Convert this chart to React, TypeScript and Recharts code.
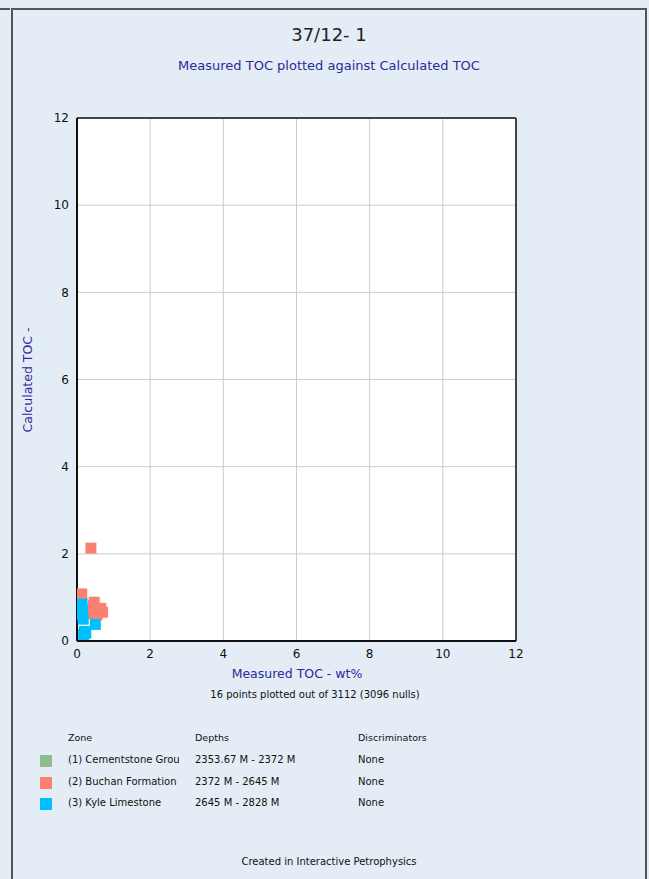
import React from "react";
import {
  ScatterChart,
  Scatter,
  XAxis,
  YAxis,
  CartesianGrid,
  ReferenceLine,
} from "recharts";

const TITLE = "37/12- 1";
const SUBTITLE = "Measured TOC plotted against Calculated TOC";
const X_LABEL = "Measured TOC - wt%";
const Y_LABEL = "Calculated TOC -";
const NOTE = "16 points plotted out of 3112 (3096 nulls)";
const FOOTER = "Created in Interactive Petrophysics";

const axisTicks = [0, 2, 4, 6, 8, 10, 12];

const zoneNames = ["(1)  Cementstone Grou", "(2) Buchan Formation", "(3) Kyle Limestone"];
const zoneDepths = ["2353.67 M - 2372 M", "2372 M - 2645 M", "2645 M - 2828 M"];
const zoneDiscriminators = ["None", "None", "None"];
const zoneColors = ["#8fbc8f", "#fa8072", "#00bfff"];

const cementstoneX: number[] = [];
const cementstoneY: number[] = [];
const buchanX = [0.38, 0.13, 0.47, 0.45, 0.65, 0.7, 0.36, 0.55];
const buchanY = [2.13, 1.08, 0.89, 0.82, 0.75, 0.66, 0.63, 0.6];
const kyleX = [0.14, 0.15, 0.14, 0.17, 0.5, 0.2, 0.18, 0.24];
const kyleY = [0.85, 0.72, 0.6, 0.5, 0.38, 0.22, 0.15, 0.18];

const toPoints = (xs: number[], ys: number[]) => xs.map((x, i) => ({ x, y: ys[i] }));
const seriesData = [
  toPoints(cementstoneX, cementstoneY),
  toPoints(buchanX, buchanY),
  toPoints(kyleX, kyleY),
];

const FONT = "Tahoma, 'DejaVu Sans', sans-serif";
const NAVY = "#2a2a9a";
const SQ = 11;

const makeSquare = (color: string) => (props: any) => {
  const { cx, cy } = props;
  if (cx == null || cy == null) return <g />;
  return <rect x={cx - SQ / 2} y={cy - SQ / 2} width={SQ} height={SQ} fill={color} />;
};

export default function App() {
  return (
    <div
      style={{
        position: "absolute",
        left: 0,
        top: 0,
        width: 649,
        height: 879,
        background: "#e4edf6",
        fontFamily: FONT,
        overflow: "hidden",
      }}
    >
      {/* frame lines */}
      <div style={{ position: "absolute", left: 0, top: 8, width: 10, height: 2, background: "#555" }} />
      <div style={{ position: "absolute", left: 11, top: 8, width: 636, height: 2, background: "#555" }} />
      <div style={{ position: "absolute", left: 11, top: 8, width: 2, height: 871, background: "#555" }} />
      <div style={{ position: "absolute", left: 645, top: 8, width: 2, height: 871, background: "#555" }} />

      <div style={{ position: "absolute", left: 0, top: 0 }}>
        <ScatterChart
          width={649}
          height={879}
          margin={{ top: 118, right: 133, bottom: 208, left: 37 }}
        >
          <CartesianGrid stroke="#cccccc" strokeWidth={1} fill="#ffffff" />
          <XAxis
            type="number"
            dataKey="x"
            domain={[0, 12]}
            ticks={axisTicks}
            allowDataOverflow
            height={30}
            tickLine={false}
            axisLine={{ stroke: "#111", strokeWidth: 2 }}
            tick={{ fill: "#111", fontSize: 12, fontFamily: FONT }}
          />
          <YAxis
            type="number"
            dataKey="y"
            domain={[0, 12]}
            ticks={axisTicks}
            allowDataOverflow
            width={40}
            tickLine={false}
            axisLine={{ stroke: "#111", strokeWidth: 2 }}
            tick={{ fill: "#111", fontSize: 12, fontFamily: FONT }}
          />
          <ReferenceLine y={12} stroke="#444" strokeWidth={2} />
          <ReferenceLine x={12} stroke="#444" strokeWidth={2} />
          {seriesData.map((d, i) => (
            <Scatter
              key={i}
              data={d}
              fill={zoneColors[i]}
              shape={makeSquare(zoneColors[i])}
              isAnimationActive={false}
            />
          ))}
        </ScatterChart>
      </div>

      {/* titles */}
      <div style={{ position: "absolute", left: 11, width: 636, top: 24, textAlign: "center", fontSize: 18, color: "#222" }}>
        {TITLE}
      </div>
      <div style={{ position: "absolute", left: 11, width: 636, top: 58, textAlign: "center", fontSize: 13, color: NAVY }}>
        {SUBTITLE}
      </div>

      {/* axis titles */}
      <div style={{ position: "absolute", left: 97, width: 400, top: 666, textAlign: "center", fontSize: 12.5, color: NAVY }}>
        {X_LABEL}
      </div>
      <div
        style={{
          position: "absolute",
          left: 27,
          top: 380,
          transform: "translate(-50%, -50%) rotate(-90deg)",
          whiteSpace: "nowrap",
          fontSize: 12.5,
          color: NAVY,
        }}
      >
        {Y_LABEL}
      </div>
      <div style={{ position: "absolute", left: 115, width: 400, top: 689, textAlign: "center", fontSize: 10, color: "#111" }}>
        {NOTE}
      </div>

      {/* legend */}
      <div style={{ position: "absolute", left: 68, top: 732, fontSize: 9.5, color: "#111" }}>Zone</div>
      <div style={{ position: "absolute", left: 195, top: 732, fontSize: 9.5, color: "#111" }}>Depths</div>
      <div style={{ position: "absolute", left: 358, top: 732, fontSize: 9.5, color: "#111" }}>Discriminators</div>
      {zoneNames.map((n, i) => (
        <React.Fragment key={n}>
          <div style={{ position: "absolute", left: 40, top: 755 + i * 21.5, width: 12, height: 12, background: zoneColors[i] }} />
          <div style={{ position: "absolute", left: 68, top: 754 + i * 21.5, fontSize: 10, color: "#111", whiteSpace: "nowrap" }}>{n}</div>
          <div style={{ position: "absolute", left: 195, top: 754 + i * 21.5, fontSize: 10, color: "#111", whiteSpace: "nowrap" }}>{zoneDepths[i]}</div>
          <div style={{ position: "absolute", left: 358, top: 754 + i * 21.5, fontSize: 10, color: "#111", whiteSpace: "nowrap" }}>{zoneDiscriminators[i]}</div>
        </React.Fragment>
      ))}

      <div style={{ position: "absolute", left: 11, width: 636, top: 856, textAlign: "center", fontSize: 10, color: "#111" }}>
        {FOOTER}
      </div>
    </div>
  );
}
